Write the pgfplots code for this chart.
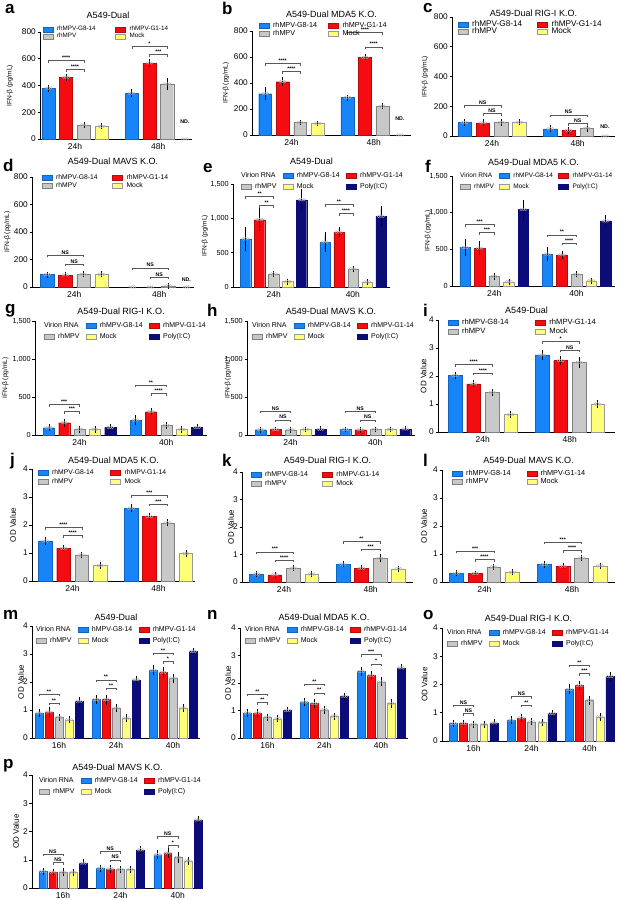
\documentclass[border=0pt]{standalone}
\usepackage{pgfplots}
\pgfplotsset{compat=1.18}
\usepackage{fontspec}
\setmainfont{Liberation Sans}
\definecolor{cblue}{RGB}{24,132,250}
\definecolor{cred}{RGB}{245,12,16}
\definecolor{cgray}{RGB}{200,200,200}
\definecolor{cyel}{RGB}{255,255,120}
\definecolor{cnavy}{RGB}{12,12,120}
\newcommand{\fT}{\fontsize{9}{10}\selectfont}
\newcommand{\fX}{\fontsize{8.5}{9}\selectfont}
\newcommand{\fY}{\fontsize{8.3}{9}\selectfont}
\newcommand{\fYs}{\fontsize{7.3}{8}\selectfont}
\newcommand{\fI}{\fontsize{6.6}{7.5}\selectfont}
\newcommand{\fO}{\fontsize{8}{9}\selectfont}
\newcommand{\fS}{\bfseries\fontsize{5.2}{5.2}\selectfont}
\newcommand{\fP}{\bfseries\fontsize{17}{17}\selectfont}
\pgfdeclareplotmark{reps}{%
 \pgfpathcircle{\pgfqpoint{-1.6\pgfplotmarksize}{0pt}}{\pgfplotmarksize}%
 \pgfpathcircle{\pgfqpoint{0pt}{0pt}}{\pgfplotmarksize}%
 \pgfpathcircle{\pgfqpoint{1.6\pgfplotmarksize}{0pt}}{\pgfplotmarksize}%
 \pgfusepathqstroke}
\newcommand{\sig}[4]{\draw[gray!70!black, line width=0.4pt] ([yshift=-2.3pt]axis cs:#1,#3) -- (axis cs:#1,#3) -- node[above, inner sep=0.7pt, font=\fS, text=black]{#4} (axis cs:#2,#3) -- ([yshift=-2.3pt]axis cs:#2,#3);}
\newcommand{\ND}[2]{\node[font=\bfseries\fontsize{5.3}{5.3}\selectfont, yshift=#2] at (axis cs:#1,0) {ND.};}
\newcommand{\virion}{\addlegendimage{legend image code/.code={\node[anchor=west, inner sep=0pt, overlay] at (0pt,0.2pt) {Virion RNA};}}\addlegendentry{}}
\pgfplotsset{
 base/.style={scale only axis, clip=false, axis x line=bottom, axis y line=left,
   axis line style={-, line width=0.55pt, black},
   ymin=0, scaled y ticks=false, tick align=outside, major tick length=2.5pt,
   ytick style={black, line width=0.5pt}, xtick style={draw=none},
   xticklabel style={font=\fX, inner sep=1.5pt}, yticklabel style={font=\fY, inner sep=1.5pt},
   /pgf/number format/assume math mode=true, /pgf/number format/1000 sep={,},
   every axis title/.style={at={(axis description cs:0.5,1)}, anchor=center, font=\fT},
   every axis y label/.style={at={(axis description cs:0,0.5)}, rotate=90, anchor=center},
   legend cell align=left,
   legend image code/.code={\draw[##1, line width=0.3pt] (0pt,-2.3pt) rectangle (10pt,2.7pt);},
   legend style={draw=none, fill=none, inner sep=0pt, outer sep=0pt, at={(rel axis cs:0,1)}, anchor=north west,
     yshift=-2.5pt,
     nodes={inner sep=0.8pt, text height=4.5pt, text depth=1.3pt}, row sep=0pt,
     /tikz/every odd column/.append style={column sep=3pt}}},
 four/.style={base, bar width=0.74, xtick={1.5,6.2}, xticklabels={24h,48h}},
 five/.style={base, bar width=0.72, xmin=-0.9, xmax=10.3, xtick={2,7.65}, xticklabels={24h,40h}},
 three/.style={base, bar width=0.77, xtick={2,7.7,13.4}, xticklabels={16h,24h,40h}},
 ifn/.style={ymax=800, ytick={0,200,400,600,800}, ylabel={IFN-β (pg/mL)}, ylabel style={font=\fI}},
 ifnb/.style={ymax=1500, ytick={0,500,1000,1500}, yticklabel style={font=\fYs}, ylabel={IFN-β (pg/mL)}, ylabel style={font=\fI}},
 od/.style={ymax=4, ytick={0,1,2,3,4}, ylabel={OD Value}, ylabel style={font=\fO}},
 leg4/.style={legend columns=2, legend style={font=\fontsize{#1}{#1}\selectfont}},
 leg6/.style={legend columns=3, legend style={font=\fontsize{#1}{#1}\selectfont, row sep=3.1pt, /tikz/every even column/.append style={column sep=5.5pt}}},
 leg6/.default=7,
 sb/.style={ybar, bar shift=0pt, line width=0.3pt, mark=reps, mark size=1.4pt,
   mark options={draw=gray!60, fill=none, line width=0.35pt},
   error bars/y dir=both, error bars/y explicit,
   error bars/error bar style={black, line width=0.45pt},
   error bars/error mark options={black, line width=0.45pt, mark size=2.3pt}},
 sG8/.style={sb, fill=cblue, draw=cblue!75!black},
 sG1/.style={sb, fill=cred, draw=cred!75!black},
 sRh/.style={sb, fill=cgray, draw=gray},
 sMo/.style={sb, fill=cyel, draw=gray!80},
 sPo/.style={sb, fill=cnavy, draw=cnavy},
 nd/.style={only marks, mark=reps, mark size=1.4pt, mark options={draw=gray!60, line width=0.35pt}, forget plot},
}
\begin{document}
\begin{tikzpicture}
\path[use as bounding box] (0pt,0pt) rectangle (620pt,900pt);
\fill[white] (0pt,0pt) rectangle (620pt,900pt);

% ---------- a
\begin{axis}[four, ifn, at={(40pt,761pt)}, width=152pt, height=107pt, xmin=-0.47, xmax=8.1,
 title={A549-Dual}, title style={yshift=17pt, xshift=-8pt}, ylabel style={yshift=30pt},
 leg4=6.3, legend style={xshift=3pt, yshift=8.8pt, row sep=-0.4pt, /tikz/every even column/.append style={column sep=19pt}}]
\addplot[sG8] coordinates {(0,380)+-(0,10) (4.7,343)+-(0,10)};\addlegendentry{rhMPV-G8-14}
\addplot[sG1] coordinates {(1,462)+-(0,8) (5.7,568)+-(0,12)};\addlegendentry{rhMPV-G1-14}
\addplot[sRh] coordinates {(2,105)+-(0,6) (6.7,412)+-(0,25)};\addlegendentry{rhMPV}
\addplot[sMo] coordinates {(3,95)+-(0,6)};\addlegendentry{Mock}
\addplot[nd] coordinates {(7.7,0)};
\ND{7.7}{17pt}
\sig{0}{2}{586}{****}\sig{1}{2}{519}{****}\sig{4.7}{6.7}{693}{*}\sig{5.7}{6.7}{631}{***}
\end{axis}

% ---------- b
\begin{axis}[four, ifn, at={(252pt,765pt)}, width=159pt, height=104pt, xmin=-0.75, xmax=8.33,
 title={A549-Dual MDA5 K.O.}, title style={yshift=17pt}, ylabel style={yshift=26pt},
 leg4=7.2, legend style={xshift=7pt, yshift=11.7pt, row sep=1.1pt, /tikz/every even column/.append style={column sep=10.5pt}}]
\addplot[sG8] coordinates {(0,318)+-(0,30) (4.7,288)+-(0,5)};\addlegendentry{rhMPV-G8-14}
\addplot[sG1] coordinates {(1,410)+-(0,15) (5.7,597)+-(0,5)};\addlegendentry{rhMPV-G1-14}
\addplot[sRh] coordinates {(2,95)+-(0,3) (6.7,222)+-(0,8)};\addlegendentry{rhMPV}
\addplot[sMo] coordinates {(3,90)+-(0,3)};\addlegendentry{Mock}
\addplot[nd] coordinates {(7.7,0)};
\ND{7.7}{16pt}
\sig{0}{2}{551}{****}\sig{1}{2}{487}{****}\sig{4.7}{6.7}{790}{****}\sig{5.7}{6.7}{679}{****}
\end{axis}

% ---------- c
\begin{axis}[four, ifn, at={(452pt,764pt)}, width=163pt, height=119pt, xmin=-0.69, xmax=8.25,
 title={A549-Dual RIG-I K.O.}, title style={yshift=4pt}, ylabel style={yshift=27pt},
 leg4=8.2, legend style={xshift=6pt, yshift=-1.3pt, row sep=0pt, /tikz/every even column/.append style={column sep=14.4pt}}]
\addplot[sG8] coordinates {(0,90)+-(0,8) (4.7,48)+-(0,8)};\addlegendentry{rhMPV-G8-14}
\addplot[sG1] coordinates {(1,88)+-(0,8) (5.7,38)+-(0,8)};\addlegendentry{rhMPV-G1-14}
\addplot[sRh] coordinates {(2,90)+-(0,6) (6.7,52)+-(0,8)};\addlegendentry{rhMPV}
\addplot[sMo] coordinates {(3,92)+-(0,6)};\addlegendentry{Mock}
\addplot[nd] coordinates {(7.7,0)};
\ND{7.7}{9pt}
\sig{0}{2}{207}{NS}\sig{1}{2}{153}{NS}\sig{4.7}{6.7}{142}{NS}\sig{5.7}{6.7}{85}{NS}
\end{axis}

% ---------- d
\begin{axis}[four, ifn, at={(32pt,613pt)}, width=162pt, height=110pt, xmin=-0.84, xmax=8.12,
 title={A549-Dual MAVS K.O.}, title style={yshift=16pt}, ylabel style={yshift=24.5pt},
 leg4=6.8, legend style={xshift=10pt, yshift=5pt, row sep=0.3pt, /tikz/every even column/.append style={column sep=14pt}}]
\addplot[sG8] coordinates {(0,90)+-(0,5)};\addlegendentry{rhMPV-G8-14}
\addplot[sG1] coordinates {(1,88)+-(0,5)};\addlegendentry{rhMPV-G1-14}
\addplot[sRh] coordinates {(2,92)+-(0,5) (6.7,8)+-(0,3)};\addlegendentry{rhMPV}
\addplot[sMo] coordinates {(3,92)+-(0,5)};\addlegendentry{Mock}
\addplot[nd] coordinates {(4.7,0) (5.7,0) (7.7,0)};
\ND{7.7}{7pt}
\sig{0}{2}{232}{NS}\sig{1}{2}{166}{NS}\sig{4.7}{6.7}{139}{NS}\sig{5.7}{6.7}{73}{NS}
\end{axis}

% ---------- e
\begin{axis}[five, ifnb, at={(233pt,613pt)}, width=157pt, height=103pt,
 title={A549-Dual}, title style={yshift=23pt}, ylabel style={yshift=28pt},
 leg6, legend style={xshift=8pt, yshift=14.1pt}]
\virion
\addplot[sG8] coordinates {(0,700)+-(0,140) (5.65,655)+-(0,110)};\addlegendentry{rhMPV-G8-14}
\addplot[sG1] coordinates {(1,980)+-(0,130) (6.65,800)+-(0,40)};\addlegendentry{rhMPV-G1-14}
\addplot[sRh] coordinates {(2,190)+-(0,15) (7.65,262)+-(0,12)};\addlegendentry{rhMPV}
\addplot[sMo] coordinates {(3,78)+-(0,10) (8.65,73)+-(0,8)};\addlegendentry{Mock}
\addplot[sPo] coordinates {(4,1270)+-(0,130) (9.65,1030)+-(0,110)};\addlegendentry{Poly(I:C)}
\sig{0}{2}{1320}{**}\sig{1}{2}{1190}{**}\sig{5.65}{7.65}{1200}{**}\sig{6.65}{7.65}{1068}{****}
\end{axis}

% ---------- f
\begin{axis}[five, ifnb, at={(452pt,614pt)}, width=163pt, height=110pt,
 title={A549-Dual MDA5 K.O.}, title style={yshift=14pt}, ylabel style={yshift=24pt},
 leg6=6.5, legend style={xshift=8pt, yshift=6.1pt, /tikz/every even column/.append style={column sep=4.5pt}}]
\virion
\addplot[sG8] coordinates {(0,525)+-(0,85) (5.65,434)+-(0,65)};\addlegendentry{rhMPV-G8-14}
\addplot[sG1] coordinates {(1,516)+-(0,60) (6.65,425)+-(0,20)};\addlegendentry{rhMPV-G1-14}
\addplot[sRh] coordinates {(2,131)+-(0,15) (7.65,158)+-(0,10)};\addlegendentry{rhMPV}
\addplot[sMo] coordinates {(3,59)+-(0,10) (8.65,72)+-(0,8)};\addlegendentry{Mock}
\addplot[sPo] coordinates {(4,1045)+-(0,100) (9.65,887)+-(0,50)};\addlegendentry{Poly(I:C)}
\sig{0}{2}{841}{***}\sig{1}{2}{728}{***}\sig{5.65}{7.65}{697}{**}\sig{6.65}{7.65}{584}{****}
\end{axis}

% ---------- g
\begin{axis}[five, ifnb, at={(35pt,465pt)}, width=172pt, height=114pt,
 title={A549-Dual RIG-I K.O.}, title style={yshift=10pt}, ylabel style={yshift=29.5pt},
 leg6, legend style={xshift=9pt, yshift=1.1pt}]
\virion
\addplot[sG8] coordinates {(0,96)+-(0,12) (5.65,197)+-(0,30)};\addlegendentry{rhMPV-G8-14}
\addplot[sG1] coordinates {(1,162)+-(0,20) (6.65,307)+-(0,12)};\addlegendentry{rhMPV-G1-14}
\addplot[sRh] coordinates {(2,75)+-(0,12) (7.65,125)+-(0,15)};\addlegendentry{rhMPV}
\addplot[sMo] coordinates {(3,74)+-(0,12) (8.65,75)+-(0,12)};\addlegendentry{Mock}
\addplot[sPo] coordinates {(4,100)+-(0,10) (9.65,100)+-(0,12)};\addlegendentry{Poly(I:C)}
\sig{0}{2}{404}{***}\sig{1}{2}{307}{***}\sig{5.65}{7.65}{658}{**}\sig{6.65}{7.65}{548}{****}
\end{axis}

% ---------- h
\begin{axis}[five, ifnb, at={(247pt,465pt)}, width=168pt, height=114pt,
 title={A549-Dual MAVS K.O.}, title style={yshift=10pt}, ylabel style={yshift=19pt},
 leg6, legend style={xshift=5pt, yshift=1.1pt}]
\virion
\addplot[sG8] coordinates {(0,70)+-(0,8) (5.65,72)+-(0,8)};\addlegendentry{rhMPV-G8-14}
\addplot[sG1] coordinates {(1,72)+-(0,8) (6.65,70)+-(0,8)};\addlegendentry{rhMPV-G1-14}
\addplot[sRh] coordinates {(2,70)+-(0,8) (7.65,72)+-(0,8)};\addlegendentry{rhMPV}
\addplot[sMo] coordinates {(3,73)+-(0,8) (8.65,72)+-(0,8)};\addlegendentry{Mock}
\addplot[sPo] coordinates {(4,75)+-(0,8) (9.65,78)+-(0,8)};\addlegendentry{Poly(I:C)}
\sig{0}{2}{316}{NS}\sig{1}{2}{200}{NS}\sig{5.65}{7.65}{316}{NS}\sig{6.65}{7.65}{200}{NS}
\end{axis}

% ---------- i
\begin{axis}[four, od, at={(438pt,468pt)}, width=177pt, height=112pt, xmin=-0.92, xmax=8.64,
 title={A549-Dual}, title style={yshift=10pt}, ylabel style={yshift=14.5pt},
 leg4=7.6, legend style={xshift=10pt, yshift=3.4pt, row sep=1.6pt, /tikz/every even column/.append style={column sep=26pt}}]
\addplot[sG8] coordinates {(0,2.02)+-(0,0.03) (4.7,2.75)+-(0,0.1)};\addlegendentry{rhMPV-G8-14}
\addplot[sG1] coordinates {(1,1.72)+-(0,0.04) (5.7,2.55)+-(0,0.08)};\addlegendentry{rhMPV-G1-14}
\addplot[sRh] coordinates {(2,1.41)+-(0,0.04) (6.7,2.48)+-(0,0.1)};\addlegendentry{rhMPV}
\addplot[sMo] coordinates {(3,0.62)+-(0,0.03) (7.7,1.0)+-(0,0.05)};\addlegendentry{Mock}
\sig{0}{2}{2.42}{****}\sig{1}{2}{2.10}{****}\sig{4.7}{6.7}{3.23}{*}\sig{5.7}{6.7}{2.93}{NS}
\end{axis}

% ---------- j
\begin{axis}[four, od, at={(32pt,319pt)}, width=163pt, height=112pt, xmin=-0.72, xmax=8.2,
 title={A549-Dual MDA5 K.O.}, title style={yshift=9pt}, ylabel style={yshift=19pt},
 leg4=6.8, legend style={xshift=6pt, yshift=2pt, row sep=0.9pt, /tikz/every even column/.append style={column sep=16pt}}]
\addplot[sG8] coordinates {(0,1.43)+-(0,0.05) (4.7,2.6)+-(0,0.05)};\addlegendentry{rhMPV-G8-14}
\addplot[sG1] coordinates {(1,1.17)+-(0,0.03) (5.7,2.3)+-(0,0.03)};\addlegendentry{rhMPV-G1-14}
\addplot[sRh] coordinates {(2,0.93)+-(0,0.03) (6.7,2.08)+-(0,0.04)};\addlegendentry{rhMPV}
\addplot[sMo] coordinates {(3,0.55)+-(0,0.03) (7.7,0.98)+-(0,0.03)};\addlegendentry{Mock}
\sig{0}{2}{1.92}{****}\sig{1}{2}{1.62}{****}\sig{4.7}{6.7}{3.05}{***}\sig{5.7}{6.7}{2.75}{***}
\end{axis}

% ---------- k
\begin{axis}[four, od, at={(242pt,318pt)}, width=171pt, height=110pt, xmin=-0.78, xmax=8.5,
 title={A549-Dual RIG-I K.O.}, title style={yshift=12pt}, ylabel style={yshift=11pt},
 leg4=7, legend style={xshift=9pt, yshift=3.1pt, row sep=1.6pt, /tikz/every even column/.append style={column sep=13.7pt}}]
\addplot[sG8] coordinates {(0,0.29)+-(0,0.02) (4.7,0.65)+-(0,0.03)};\addlegendentry{rhMPV-G8-14}
\addplot[sG1] coordinates {(1,0.26)+-(0,0.02) (5.7,0.50)+-(0,0.03)};\addlegendentry{rhMPV-G1-14}
\addplot[sRh] coordinates {(2,0.50)+-(0,0.03) (6.7,0.86)+-(0,0.06)};\addlegendentry{rhMPV}
\addplot[sMo] coordinates {(3,0.29)+-(0,0.03) (7.7,0.48)+-(0,0.03)};\addlegendentry{Mock}
\sig{0}{2}{1.1}{***}\sig{1}{2}{0.8}{****}\sig{4.7}{6.7}{1.48}{**}\sig{5.7}{6.7}{1.2}{***}
\end{axis}

% ---------- l
\begin{axis}[four, od, at={(442pt,318pt)}, width=173pt, height=112pt, xmin=-0.77, xmax=8.5,
 title={A549-Dual MAVS K.O.}, title style={yshift=10pt}, ylabel style={yshift=18pt},
 leg4=7.3, legend style={xshift=10pt, yshift=2.25pt, row sep=0.9pt, /tikz/every even column/.append style={column sep=15pt}}]
\addplot[sG8] coordinates {(0,0.32)+-(0,0.03) (4.7,0.62)+-(0,0.03)};\addlegendentry{rhMPV-G8-14}
\addplot[sG1] coordinates {(1,0.30)+-(0,0.02) (5.7,0.56)+-(0,0.03)};\addlegendentry{rhMPV-G1-14}
\addplot[sRh] coordinates {(2,0.54)+-(0,0.02) (6.7,0.86)+-(0,0.02)};\addlegendentry{rhMPV}
\addplot[sMo] coordinates {(3,0.35)+-(0,0.02) (7.7,0.58)+-(0,0.03)};\addlegendentry{Mock}
\sig{0}{2}{1.1}{***}\sig{1}{2}{0.8}{****}\sig{4.7}{6.7}{1.43}{***}\sig{5.7}{6.7}{1.13}{****}
\end{axis}

% ---------- m
\begin{axis}[three, od, at={(32pt,162pt)}, width=168pt, height=112pt, xmin=-0.7, xmax=16.1,
 title={A549-Dual}, title style={yshift=9pt}, ylabel style={yshift=11pt},
 leg6, legend style={xshift=4pt, yshift=2.1pt}]
\virion
\addplot[sG8] coordinates {(0,0.89)+-(0,0.06) (5.7,1.37)+-(0,0.08) (11.4,2.42)+-(0,0.1)};\addlegendentry{hMPV-G8-14}
\addplot[sG1] coordinates {(1,0.93)+-(0,0.1) (6.7,1.37)+-(0,0.1) (12.4,2.35)+-(0,0.12)};\addlegendentry{rhMPV-G1-14}
\addplot[sRh] coordinates {(2,0.74)+-(0,0.05) (7.7,1.07)+-(0,0.07) (13.4,2.14)+-(0,0.08)};\addlegendentry{rhMPV}
\addplot[sMo] coordinates {(3,0.65)+-(0,0.05) (8.7,0.71)+-(0,0.07) (14.4,1.07)+-(0,0.07)};\addlegendentry{Mock}
\addplot[sPo] coordinates {(4,1.31)+-(0,0.08) (9.7,2.08)+-(0,0.05) (15.4,3.09)+-(0,0.05)};\addlegendentry{Poly(I:C)}
\sig{0}{2}{1.57}{**}\sig{1}{2}{1.25}{**}\sig{5.7}{7.7}{2.08}{**}\sig{6.7}{7.7}{1.78}{**}\sig{11.4}{13.4}{3.03}{**}\sig{12.4}{13.4}{2.73}{*}
\end{axis}

% ---------- n
\begin{axis}[three, od, at={(240pt,162pt)}, width=168pt, height=110pt, xmin=-0.75, xmax=16.1,
 title={A549-Dual MDA5 K.O.}, title style={yshift=11pt}, ylabel style={yshift=12pt},
 leg6, legend style={xshift=5pt, yshift=4.1pt}]
\virion
\addplot[sG8] coordinates {(0,0.91)+-(0,0.05) (5.7,1.31)+-(0,0.07) (11.4,2.42)+-(0,0.08)};\addlegendentry{rhMPV-G8-14}
\addplot[sG1] coordinates {(1,0.91)+-(0,0.06) (6.7,1.25)+-(0,0.08) (12.4,2.28)+-(0,0.08)};\addlegendentry{rhMPV-G1-14}
\addplot[sRh] coordinates {(2,0.75)+-(0,0.05) (7.7,1.03)+-(0,0.06) (13.4,2.04)+-(0,0.08)};\addlegendentry{rhMPV}
\addplot[sMo] coordinates {(3,0.70)+-(0,0.05) (8.7,0.79)+-(0,0.05) (14.4,1.25)+-(0,0.07)};\addlegendentry{Mock}
\addplot[sPo] coordinates {(4,1.0)+-(0,0.05) (9.7,1.52)+-(0,0.05) (15.4,2.55)+-(0,0.07)};\addlegendentry{Poly(I:C)}
\sig{0}{2}{1.6}{**}\sig{1}{2}{1.3}{**}\sig{5.7}{7.7}{1.96}{**}\sig{6.7}{7.7}{1.64}{**}\sig{11.4}{13.4}{3.03}{***}\sig{12.4}{13.4}{2.7}{*}
\end{axis}

% ---------- o
\begin{axis}[three, od, at={(442pt,159pt)}, width=173pt, height=113pt, xmin=-1.1, xmax=15.9,
 title={A549-Dual RIG-I K.O.}, title style={yshift=10pt}, ylabel style={yshift=17.5pt},
 leg6, legend style={xshift=5pt, yshift=1.1pt}]
\virion
\addplot[sG8] coordinates {(0,0.62)+-(0,0.04) (5.7,0.74)+-(0,0.05) (11.4,1.83)+-(0,0.1)};\addlegendentry{rhMPV-G8-14}
\addplot[sG1] coordinates {(1,0.62)+-(0,0.05) (6.7,0.82)+-(0,0.07) (12.4,1.96)+-(0,0.08)};\addlegendentry{rhMPV-G1-14}
\addplot[sRh] coordinates {(2,0.58)+-(0,0.04) (7.7,0.68)+-(0,0.04) (13.4,1.44)+-(0,0.08)};\addlegendentry{rhMPV}
\addplot[sMo] coordinates {(3,0.58)+-(0,0.04) (8.7,0.65)+-(0,0.04) (14.4,0.85)+-(0,0.05)};\addlegendentry{Mock}
\addplot[sPo] coordinates {(4,0.64)+-(0,0.04) (9.7,0.97)+-(0,0.04) (15.4,2.28)+-(0,0.07)};\addlegendentry{Poly(I:C)}
\sig{0}{2}{1.27}{NS}\sig{1}{2}{0.97}{NS}\sig{5.7}{7.7}{1.57}{NS}\sig{6.7}{7.7}{1.27}{**}\sig{11.4}{13.4}{2.69}{**}\sig{12.4}{13.4}{2.4}{***}
\end{axis}

% ---------- p
\begin{axis}[three, od, at={(32pt,12pt)}, width=171pt, height=113pt, xmin=-1.07, xmax=15.9,
 title={A549-Dual MAVS K.O.}, title style={yshift=8pt}, ylabel style={yshift=16pt},
 leg6, legend style={xshift=7pt, yshift=0.1pt}]
\virion
\addplot[sG8] coordinates {(0,0.59)+-(0,0.04) (5.7,0.70)+-(0,0.05) (11.4,1.18)+-(0,0.08)};\addlegendentry{rhMPV-G8-14}
\addplot[sG1] coordinates {(1,0.56)+-(0,0.04) (6.7,0.68)+-(0,0.05) (12.4,1.24)+-(0,0.08)};\addlegendentry{rhMPV-G1-14}
\addplot[sRh] coordinates {(2,0.56)+-(0,0.05) (7.7,0.65)+-(0,0.05) (13.4,1.08)+-(0,0.1)};\addlegendentry{rhMPV}
\addplot[sMo] coordinates {(3,0.56)+-(0,0.04) (8.7,0.65)+-(0,0.05) (14.4,0.96)+-(0,0.06)};\addlegendentry{Mock}
\addplot[sPo] coordinates {(4,0.88)+-(0,0.05) (9.7,1.35)+-(0,0.06) (15.4,2.41)+-(0,0.06)};\addlegendentry{Poly(I:C)}
\sig{0}{2}{1.2}{NS}\sig{1}{2}{0.9}{NS}\sig{5.7}{7.7}{1.3}{NS}\sig{6.7}{7.7}{1.0}{NS}\sig{11.4}{13.4}{1.82}{NS}\sig{12.4}{13.4}{1.5}{*}
\end{axis}

% panel letters
\begin{scope}[every node/.style={anchor=base west, inner sep=0pt, font=\fP}]
\node at (5pt,886pt) {a};
\node at (222pt,885pt) {b};
\node at (423pt,887pt) {c};
\node at (3pt,728pt) {d};
\node at (203pt,727pt) {e};
\node at (425pt,727pt) {f};
\node at (5pt,586pt) {g};
\node at (207pt,583pt) {h};
\node at (423pt,583pt) {i};
\node at (10pt,434pt) {j};
\node at (222pt,433pt) {k};
\node at (423pt,433pt) {l};
\node at (3pt,280pt) {m};
\node at (207pt,280pt) {n};
\node at (423pt,280pt) {o};
\node at (3pt,131pt) {p};
\end{scope}
\end{tikzpicture}
\end{document}
